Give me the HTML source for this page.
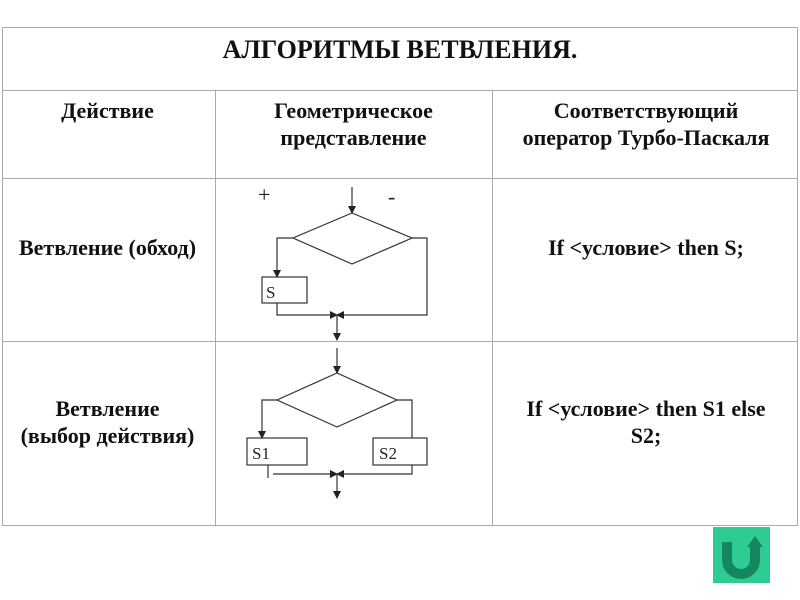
<!DOCTYPE html>
<html><head><meta charset="utf-8"><style>
body{margin:0;width:800px;height:600px;background:#fff;overflow:hidden;font-family:"Liberation Serif",serif;}
.t{position:absolute;font-weight:bold;font-size:22px;color:#111;text-align:center;line-height:27px;}
</style></head><body>
<svg width="800" height="600" style="position:absolute;left:0;top:0">
<defs><marker id="a" markerWidth="8" markerHeight="8" refX="7" refY="4" orient="auto" markerUnits="userSpaceOnUse"><path d="M0,0 L8,4 L0,8z" fill="#222"/></marker></defs>
<g stroke="#aaa" fill="none" stroke-width="1">
<rect x="2.5" y="27.5" width="795" height="498"/>
<line x1="2" y1="90.5" x2="798" y2="90.5"/>
<line x1="2" y1="178.5" x2="798" y2="178.5"/>
<line x1="2" y1="341.5" x2="798" y2="341.5"/>
<line x1="215.5" y1="90" x2="215.5" y2="526"/>
<line x1="492.5" y1="90" x2="492.5" y2="526"/>
</g>
<g stroke="#333" fill="none" stroke-width="1.2">
<line x1="352" y1="187" x2="352" y2="213" marker-end="url(#a)"/>
<polygon points="352,213 412,238 352,264 293,238"/>
<polyline points="293,238 277,238 277,277" marker-end="url(#a)"/>
<rect x="262" y="277" width="45" height="26"/>
<polyline points="412,238 427,238 427,315 337,315" marker-end="url(#a)"/>
<polyline points="277,303 277,315 337,315" marker-end="url(#a)"/>
<line x1="337" y1="315" x2="337" y2="340" marker-end="url(#a)"/>
<line x1="337" y1="348" x2="337" y2="373" marker-end="url(#a)"/>
<polygon points="337,373 397,400 337,427 277,400"/>
<polyline points="277,400 262,400 262,438" marker-end="url(#a)"/>
<polyline points="397,400 412,400 412,438"/>
<rect x="247" y="438" width="60" height="27"/>
<rect x="373" y="438" width="54" height="27"/>
<line x1="268" y1="465" x2="268" y2="478"/>
<polyline points="273,474 337,474" marker-end="url(#a)"/>
<polyline points="412,465 412,474 337,474" marker-end="url(#a)"/>
<line x1="337" y1="474" x2="337" y2="498" marker-end="url(#a)"/>
</g>
<g font-family="Liberation Serif,serif" font-size="17" fill="#222">
<text x="258" y="202" font-size="22">+</text>
<text x="388" y="204" font-size="22">-</text>
<text x="266" y="298">S</text>
<text x="252" y="459">S1</text>
<text x="379" y="459">S2</text>
</g>
<rect x="713" y="527" width="57" height="56" fill="#2ecb93"/>
<path d="M727,542 v18 a14,14 0 0 0 28,0 v-14" stroke="#16865e" stroke-width="10" fill="none"/>
<path d="M747,547 l8,-11 l8,11z" fill="#16865e"/>
</svg>
<div class="t" style="left:0;width:800px;top:34px;font-size:26px;line-height:32px">АЛГОРИТМЫ ВЕТВЛЕНИЯ.</div>
<div class="t" style="left:0;width:215px;top:97px">Действие</div>
<div class="t" style="left:215px;width:277px;top:97px">Геометрическое<br>представление</div>
<div class="t" style="left:492px;width:308px;top:97px">Соответствующий<br>оператор Турбо-Паскаля</div>
<div class="t" style="left:0;width:215px;top:234px">Ветвление (обход)</div>
<div class="t" style="left:492px;width:308px;top:234px">If &lt;условие&gt; then S;</div>
<div class="t" style="left:0;width:215px;top:395px">Ветвление<br>(выбор действия)</div>
<div class="t" style="left:492px;width:308px;top:395px">If &lt;условие&gt; then S1 else<br>S2;</div>
</body></html>
